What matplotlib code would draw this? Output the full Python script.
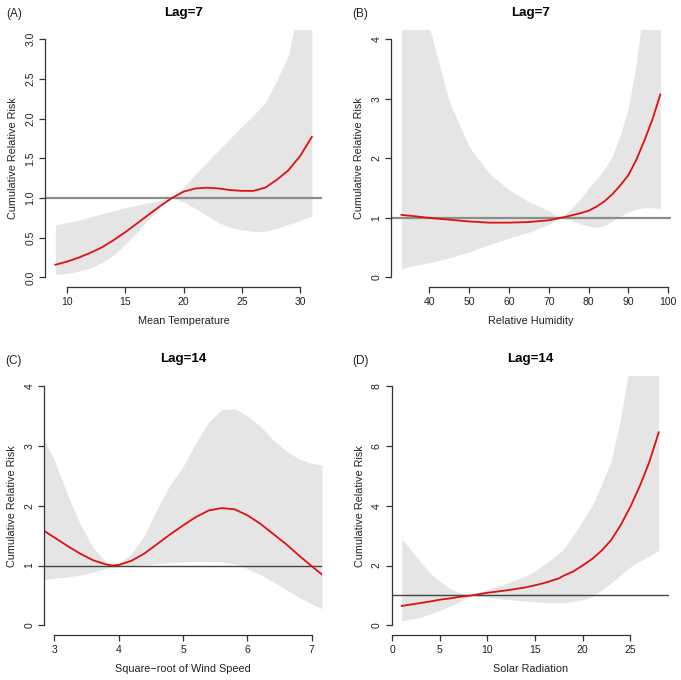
import numpy as np
import matplotlib.pyplot as plt

plt.rcParams['font.family'] = ['Liberation Sans', 'DejaVu Sans']

# (A) Mean Temperature, Lag=7
temp_x = [9, 10, 11, 12, 13, 14, 15, 16, 17, 18, 19, 20, 21, 22, 23, 24, 25, 26, 27, 28, 29, 30, 31]
temp_rr = [0.16, 0.2, 0.25, 0.31, 0.38, 0.47, 0.57, 0.68, 0.79, 0.9, 1.0, 1.08, 1.12, 1.13, 1.12, 1.1, 1.09, 1.09, 1.13, 1.23, 1.35, 1.53, 1.77]
temp_lo = [0.04, 0.05, 0.08, 0.12, 0.19, 0.28, 0.42, 0.57, 0.73, 0.88, 1.0, 0.95, 0.87, 0.78, 0.69, 0.63, 0.6, 0.58, 0.58, 0.62, 0.67, 0.72, 0.77]
temp_hi = [0.66, 0.69, 0.72, 0.76, 0.8, 0.84, 0.88, 0.91, 0.94, 0.97, 1.0, 1.13, 1.3, 1.45, 1.6, 1.75, 1.9, 2.04, 2.2, 2.48, 2.8, 3.5, 4.3]

# (B) Relative Humidity, Lag=7
hum_x = [33, 36, 40, 45, 50, 55, 60, 65, 70, 73, 75, 78, 80, 82, 84, 86, 88, 90, 92, 94, 96, 98]
hum_rr = [1.05, 1.03, 1.0, 0.97, 0.94, 0.92, 0.92, 0.93, 0.96, 1.0, 1.03, 1.08, 1.12, 1.19, 1.28, 1.4, 1.55, 1.72, 1.98, 2.3, 2.65, 3.07]
hum_lo = [0.15, 0.2, 0.25, 0.33, 0.43, 0.55, 0.66, 0.76, 0.89, 1.0, 0.98, 0.9, 0.86, 0.84, 0.87, 0.95, 1.03, 1.1, 1.15, 1.17, 1.17, 1.15]
hum_hi = [8.0, 6.0, 4.2, 2.95, 2.19, 1.75, 1.47, 1.27, 1.12, 1.0, 1.12, 1.32, 1.5, 1.65, 1.82, 2.05, 2.4, 2.85, 3.6, 4.7, 6.0, 7.5]

# (C) Square-root of Wind Speed, Lag=14
wind_x = [2.84, 3.0, 3.2, 3.4, 3.6, 3.8, 3.9, 4.0, 4.2, 4.4, 4.6, 4.8, 5.0, 5.2, 5.4, 5.6, 5.8, 6.0, 6.2, 6.4, 6.6, 6.8, 7.0, 7.16]
wind_rr = [1.58, 1.47, 1.33, 1.2, 1.09, 1.02, 1.0, 1.01, 1.08, 1.2, 1.36, 1.52, 1.67, 1.81, 1.92, 1.96, 1.94, 1.84, 1.7, 1.53, 1.36, 1.17, 0.99, 0.85]
wind_lo = [0.77, 0.79, 0.81, 0.84, 0.89, 0.95, 0.97, 0.98, 1.0, 1.01, 1.03, 1.05, 1.06, 1.07, 1.07, 1.06, 1.03, 0.95, 0.85, 0.73, 0.6, 0.47, 0.36, 0.28]
wind_hi = [3.1, 2.76, 2.2, 1.7, 1.3, 1.07, 1.02, 1.03, 1.2, 1.5, 1.95, 2.35, 2.65, 3.05, 3.4, 3.6, 3.62, 3.5, 3.33, 3.1, 2.92, 2.78, 2.71, 2.68]

# (D) Solar Radiation, Lag=14
sol_x = [1, 2, 3, 4, 5, 6, 7, 8.3, 10, 12, 14, 15, 16, 17.5, 18, 19, 20, 21, 22, 23, 24, 25, 26, 27, 28]
sol_rr = [0.65, 0.7, 0.75, 0.8, 0.86, 0.9, 0.95, 1.0, 1.09, 1.17, 1.27, 1.34, 1.42, 1.57, 1.66, 1.8, 2.0, 2.22, 2.5, 2.85, 3.35, 3.95, 4.65, 5.45, 6.45]
sol_lo = [0.15, 0.21, 0.28, 0.38, 0.5, 0.63, 0.78, 1.0, 0.95, 0.87, 0.81, 0.79, 0.77, 0.75, 0.76, 0.8, 0.86, 0.96, 1.18, 1.42, 1.68, 1.95, 2.15, 2.32, 2.52]
sol_hi = [2.9, 2.5, 2.1, 1.75, 1.47, 1.25, 1.1, 1.0, 1.2, 1.4, 1.65, 1.82, 2.05, 2.4, 2.55, 3.0, 3.5, 4.0, 4.7, 5.5, 6.9, 8.8, 10.0, 11.0, 12.0]

panels = [
    dict(tag='(A)', title='Lag=7', xlabel='Mean Temperature', x=temp_x, rr=temp_rr, lo=temp_lo, hi=temp_hi,
         xlim=(8.12, 31.88), ylim=(-0.12, 3.12), xticks=[10, 15, 20, 25, 30],
         yticks=[0.0, 0.5, 1.0, 1.5, 2.0, 2.5, 3.0], yfmt='{:.1f}', hcol='#8c8c8c', hlw=1.6,
         pos=[0.0662, 0.5779, 0.4068, 0.3787]),
    dict(tag='(B)', title='Lag=7', xlabel='Relative Humidity', x=hum_x, rr=hum_rr, lo=hum_lo, hi=hum_hi,
         xlim=(30.4, 100.6), ylim=(-0.16, 4.16), xticks=[40, 50, 60, 70, 80, 90, 100],
         yticks=[0, 1, 2, 3, 4], yfmt='{:d}', hcol='#8c8c8c', hlw=1.6,
         pos=[0.5743, 0.5779, 0.4106, 0.3787]),
    dict(tag='(C)', title='Lag=14', xlabel='Square\u2212root of Wind Speed', x=wind_x, rr=wind_rr, lo=wind_lo, hi=wind_hi,
         xlim=(2.84, 7.16), ylim=(-0.16, 4.16), xticks=[3, 4, 5, 6, 7],
         yticks=[0, 1, 2, 3, 4], yfmt='{:d}', hcol='#444444', hlw=1.0,
         pos=[0.0646, 0.0662, 0.4082, 0.3803]),
    dict(tag='(D)', title='Lag=14', xlabel='Solar Radiation', x=sol_x, rr=sol_rr, lo=sol_lo, hi=sol_hi,
         xlim=(-0.08, 29.08), ylim=(-0.32, 8.32), xticks=[0, 5, 10, 15, 20, 25],
         yticks=[0, 2, 4, 6, 8], yfmt='{:d}', hcol='#444444', hlw=1.0,
         pos=[0.5749, 0.0662, 0.4075, 0.3803]),
]

fig = plt.figure(figsize=(6.81, 6.80), dpi=100)
txt = '#222222'

for p in panels:
    ax = fig.add_axes(p['pos'])
    ax.fill_between(p['x'], p['lo'], p['hi'], color='#e5e5e5', lw=0)
    ax.axhline(1, color=p['hcol'], lw=p['hlw'])
    ax.plot(p['x'], p['rr'], color='#e01010', lw=1.3)
    ax.set_xlim(p['xlim'])
    ax.set_ylim(p['ylim'])
    ax.set_xticks(p['xticks'])
    ax.set_yticks(p['yticks'])
    ax.set_yticklabels([p['yfmt'].format(v) for v in p['yticks']], rotation=90, va='center')
    for s in ['top', 'right']:
        ax.spines[s].set_visible(False)
    ax.spines['left'].set_bounds(p['yticks'][0], p['yticks'][-1])
    ax.spines['bottom'].set_bounds(p['xticks'][0], p['xticks'][-1])
    for s in ['left', 'bottom']:
        ax.spines[s].set_color('#333333')
        ax.spines[s].set_linewidth(0.9)
    ax.tick_params(direction='out', length=4, width=0.9, color='#333333', labelsize=7.5, labelcolor=txt, pad=3)
    ax.set_xlabel(p['xlabel'], fontsize=7.8, color=txt, labelpad=7)
    ax.set_ylabel('Cumulative Relative Risk', fontsize=7.8, color=txt, labelpad=5)
    ax.set_title(p['title'], fontsize=9.6, fontweight='bold', pad=10)
    ax.text(-0.14, 1.06, p['tag'], transform=ax.transAxes, fontsize=8.5, color=txt, va='center', ha='left')

fig.savefig('out.png', dpi=100)
